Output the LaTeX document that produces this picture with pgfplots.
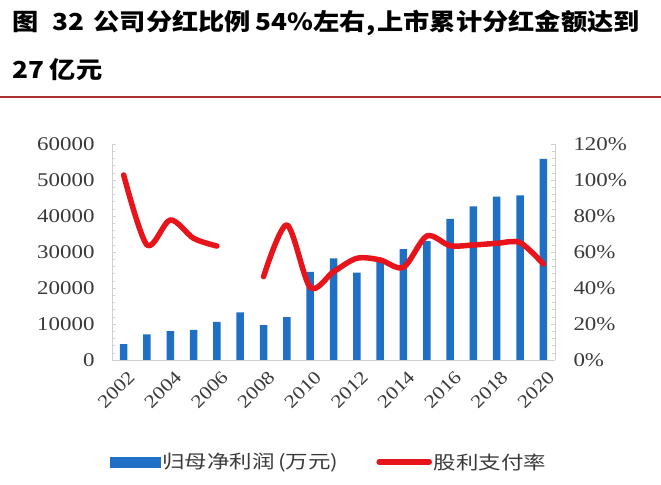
\documentclass[border=0pt]{standalone}
\usepackage{fontspec}
\setmainfont{Liberation Serif}[FakeStretch=1.18]
\newfontfamily\cjk{Noto Sans CJK SC}
\newfontfamily\cjktitle{Noto Sans CJK SC}[FakeStretch=1.12]
\newfontfamily\cjkleg{Noto Sans CJK SC}[FakeStretch=1.22]
\usepackage{pgfplots}
\pgfplotsset{compat=1.18}
\definecolor{barblue}{HTML}{1F6FC5}
\definecolor{linered}{HTML}{E8141B}
\definecolor{sepred}{HTML}{A83232}
\definecolor{axgray}{HTML}{D0D0D0}
\definecolor{txt}{HTML}{3A3A3A}
\pgfplotsset{
  common/.style={
    at={(112bp,125bp)}, anchor=south west,
    scale only axis, width=443bp, height=216bp,
    xmin=-0.5, xmax=18.5,
    tick align=inside,
    major tick length=4bp, minor tick length=3bp,
    axis line style={axgray, line width=0.8pt},
    every tick/.style={axgray, line width=0.5pt},
    ticklabel style={font=\fontsize{19.5}{22}\selectfont, text=txt},
    /pgf/number format/assume math mode=true,
  }
}
\begin{document}
\begin{tikzpicture}
\path[use as bounding box] (0bp,0bp) rectangle (661bp,485bp);
\node[anchor=west, inner sep=0pt, font=\cjktitle\bfseries\fontsize{23.5}{26}\selectfont] at (12bp,462bp) {图\hspace{0.6em}32\hspace{0.4em}公司分红比例\hspace{0.2em}54\%左右,\hspace{0.1em}上市累计分红金额达到};
\node[anchor=west, inner sep=0pt, font=\cjktitle\bfseries\fontsize{23.5}{26}\selectfont] at (12bp,415bp) {27\hspace{0.25em}亿元};
\draw[sepred, line width=2bp] (0bp,388bp) -- (661bp,388bp);
\begin{axis}[common,
  ymin=0, ymax=60000,
  ytick={0,10000,...,60000}, minor y tick num=4,
  axis y line*=left, axis x line*=bottom,
  xtick={0,2,...,18},
  xticklabels={2002,2004,2006,2008,2010,2012,2014,2016,2018,2020},
  x tick label style={rotate=45, anchor=north east, xshift=2bp, yshift=-3bp, font=\fontsize{18.5}{21}\selectfont},
  major x tick style={draw=none},
  scaled y ticks=false,
  yticklabel style={/pgf/number format/fixed, /pgf/number format/1000 sep={}, xshift=-14bp},
  ybar, bar width=7.5bp,
]
\addplot[fill=barblue, draw=none] coordinates {
(0,4400) (1,7100) (2,8000) (3,8400) (4,10600) (5,13200) (6,9700) (7,11900)
(8,24500) (9,28200) (10,24300) (11,28000) (12,30800) (13,33000) (14,39200)
(15,42700) (16,45400) (17,45700) (18,55900)};
\end{axis}
\begin{axis}[common,
  ymin=0, ymax=120,
  ytick={0,20,...,120}, minor y tick num=4,
  axis y line*=right, axis x line=none,
  yticklabel={\pgfmathprintnumber{\tick}\%},
  yticklabel style={xshift=15bp},
  unbounded coords=jump,
  legend columns=2,
  legend style={draw=none, fill=none, at={(0.49,-0.472)}, anchor=center,
    font=\cjkleg\fontsize{18.5}{22}\selectfont, text=txt,
    /tikz/every even column/.append style={column sep=36bp}},
]
\addlegendimage{legend image code/.code={\fill[barblue] (0bp,-5bp) rectangle (50bp,5bp);}}
\addlegendentry{归母净利润\hspace{0.2em}(万元)}
\addplot[linered, line width=5.5bp, smooth, line cap=round, line join=round,
  legend image code/.code={\draw[linered, line width=5.5bp, line cap=round] (0bp,0bp) -- (50bp,0bp);}]
coordinates {
(0,102.8) (1,63.9) (2,77.8) (3,67.6) (4,63.3) (5,nan) (6,46.3) (7,75) (8,40.4)
(9,49) (10,56.5) (11,55.6) (12,51.5) (13,68.9) (14,63.5) (15,63.9) (16,64.8)
(17,65.2) (18,53.3)};
\addlegendentry{股利支付率}
\end{axis}
\end{tikzpicture}
\end{document}
